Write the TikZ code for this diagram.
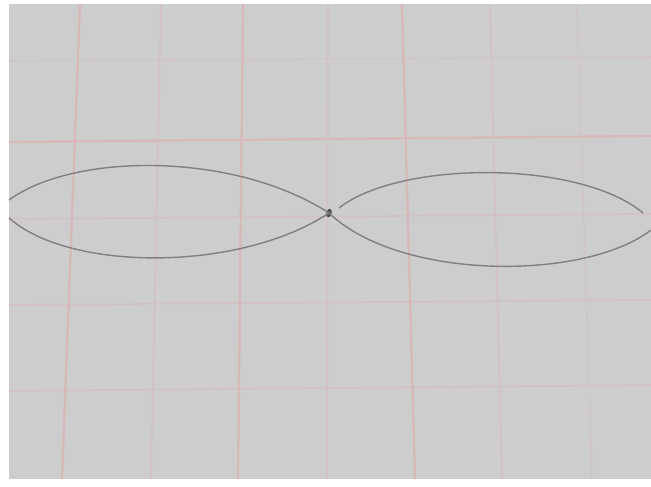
\documentclass[tikz,border=0pt]{standalone}
\usetikzlibrary{shapes.geometric, calc}
\definecolor{paperGray}{RGB}{205,205,206}
\definecolor{gridPink}{RGB}{217,184,186}
\definecolor{gridPinkLight}{RGB}{210,194,196}
\definecolor{pencilGray}{RGB}{128,128,130}

\begin{document}
\begin{tikzpicture}[x=0.02cm, y=-0.02cm,
        major/.style={draw=gridPink, line width=1.3pt},
        minor/.style={draw=gridPinkLight, line width=0.9pt},
        wave/.style={draw=pencilGray, line width=0.8pt},
        knot/.style={ellipse, fill=black!70, inner sep=0pt, minimum width=3pt, minimum height=5pt, rotate=-15}
      ]
        \useasboundingbox (0,0) rectangle (651,486);
        \fill[white] (0,0) rectangle (651,486);
        \fill[paperGray] (9,4) rectangle (651,479);
        % grid of the paper
        \draw[minor, draw opacity=0.6] (9,61) -- (651,57);
        \draw[major] (9,142) -- (651,136);
        \draw[minor] (9,219) -- (651,214);
        \draw[minor] (9,305) -- (651,300);
        \draw[minor] (9,391) -- (651,385);
        \draw[major] (80,4) -- (62,479);
        \draw[minor] (161,4) -- (151,479);
        \draw[major] (243,4) -- (238,479);
        \draw[minor] (328,4) -- (327,479);
        \draw[major] (402,4) -- (415,479);
        \draw[minor] (490,4) -- (502,479);
        \draw[minor, draw opacity=0.6] (577,4) -- (592,479);
        % the two loops
        \node[knot] (mid) at (329,213) {};
        \coordinate (lu) at (9,200);
        \coordinate (ld) at (9,218);
        \coordinate (ru) at (339,208);
        \coordinate (rue) at (643,213);
        \coordinate (rde) at (651,230);
        \draw[wave] (lu) .. controls (75,152) and (235,152) .. (mid.center);
        \draw[wave] (ld) .. controls (70,272) and (240,272) .. (mid.center);
        \draw[wave] (ru) .. controls (400,160) and (580,160) .. (rue);
        \draw[wave] (mid.center) .. controls (400,281) and (585,281) .. (rde);
      \end{tikzpicture}
\end{document}
